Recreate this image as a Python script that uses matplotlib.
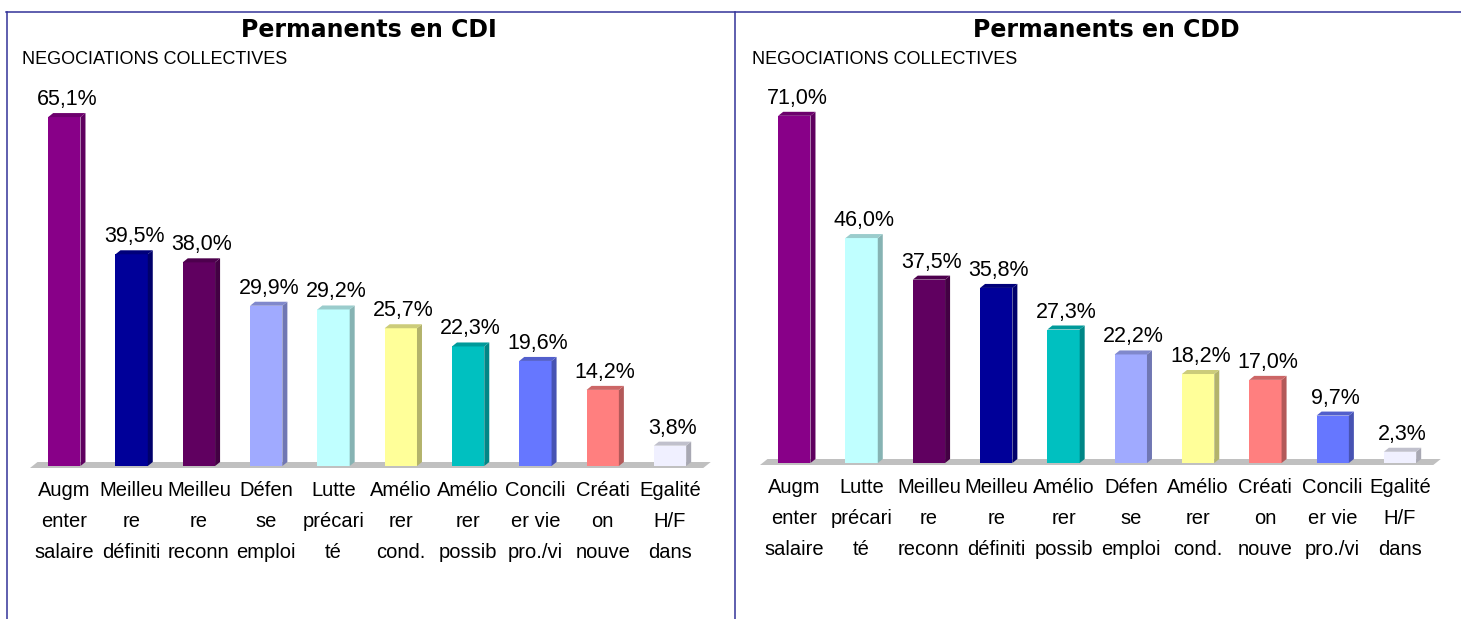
import numpy as np
import matplotlib
matplotlib.use("Agg")
import matplotlib.pyplot as plt
from matplotlib.patches import Polygon
from matplotlib.lines import Line2D
from matplotlib.colors import to_rgb

W, H = 1461, 619
narrow = ['Liberation Sans', 'DejaVu Sans']

# donnees CDI
cats_cdi = ["Augm\nenter\nsalaire", "Meilleu\nre\ndéfiniti", "Meilleu\nre\nreconn",
            "Défen\nse\nemploi", "Lutte\nprécari\nté", "Amélio\nrer\ncond.",
            "Amélio\nrer\npossib", "Concili\ner vie\npro./vi", "Créati\non\nnouve",
            "Egalité\nH/F\ndans"]
vals_cdi = [65.1, 39.5, 38.0, 29.9, 29.2, 25.7, 22.3, 19.6, 14.2, 3.8]

# donnees CDD
cats_cdd = ["Augm\nenter\nsalaire", "Lutte\nprécari\nté", "Meilleu\nre\nreconn",
            "Meilleu\nre\ndéfiniti", "Amélio\nrer\npossib", "Défen\nse\nemploi",
            "Amélio\nrer\ncond.", "Créati\non\nnouve", "Concili\ner vie\npro./vi",
            "Egalité\nH/F\ndans"]
vals_cdd = [71.0, 46.0, 37.5, 35.8, 27.3, 22.2, 18.2, 17.0, 9.7, 2.3]

# couleur par theme
couleurs = {
    "Augm": "#880088", "Meilleu\nre\ndéfiniti": "#000099", "Meilleu\nre\nreconn": "#600060",
    "Défen": "#A0AAFF", "Lutte": "#C0FFFF", "Amélio\nrer\ncond.": "#FFFF99",
    "Amélio\nrer\npossib": "#00C0C0", "Concili": "#6677FF", "Créati": "#FF7F7F",
    "Egalité": "#F0F0FF",
}

def couleur(lab):
    for k, c in couleurs.items():
        if lab.startswith(k):
            return c
    return "gray"

def sombre(c, f):
    r, g, b = to_rgb(c)
    return (r * f, g * f, b * f)

fig = plt.figure(figsize=(W / 100, H / 100), dpi=100)

def panel(x0, base, top, ymax, labels, values, title, sub, tx, sx):
    ax = fig.add_axes([x0 / W, (H - base) / H, 680 / W, (base - top) / H])
    n = len(values)
    x_left = -0.51
    x_right = x_left + 680 / 67.3
    ax.set_xlim(x_left, x_right)
    ax.set_ylim(0, ymax)
    ppx = 680 / (x_right - x_left)          # pixels par unite x
    ppy = (base - top) / ymax               # pixels par %
    dx, dy = 5 / ppx, 4 / ppy
    w = 0.48
    # sol gris
    ax.add_patch(Polygon([(x_left, -2 / ppy), (x_right - 0.1, -2 / ppy),
                          (x_right - 0.1 + dx * 1.5, 4 / ppy), (x_left + dx * 1.5, 4 / ppy)],
                         closed=True, fc="#C0C0C0", ec="none", clip_on=False, zorder=1))
    for i, (lab, v) in enumerate(zip(labels, values)):
        c = couleur(lab)
        ax.bar(i, v, width=w, color=c, zorder=3)
        ax.add_patch(Polygon([(i + w / 2, 0), (i + w / 2 + dx, dy), (i + w / 2 + dx, v + dy), (i + w / 2, v)],
                             closed=True, fc=sombre(c, 0.7), ec="none", zorder=3))
        ax.add_patch(Polygon([(i - w / 2, v), (i + w / 2, v), (i + w / 2 + dx, v + dy), (i - w / 2 + dx, v + dy)],
                             closed=True, fc=sombre(c, 0.8), ec="none", zorder=3))
        ax.annotate(f"{v:.1f}%".replace(".", ","), (i + dx / 2, v + dy), xytext=(0, 3),
                    textcoords="offset pixels", ha="center", va="bottom",
                    fontsize=15.5, family=narrow, color="black")
    ax.set_xticks(range(n), labels, family=narrow, fontsize=14.5, linespacing=1.8)
    ax.tick_params(axis="x", length=0, pad=11)
    ax.set_yticks([])
    for s in ax.spines.values():
        s.set_visible(False)
    fig.text(tx / W, 1 - 30 / H, title, ha="center", va="center", fontsize=17,
             fontweight="bold", family="DejaVu Sans")
    fig.text(sx / W, 1 - 59 / H, sub, ha="left", va="center", fontsize=13, family=narrow)
    return ax

panel(30, 466, 80, 386 / 5.36, cats_cdi, vals_cdi, "Permanents en CDI",
      "NEGOCIATIONS COLLECTIVES", 369, 22)
panel(760, 463, 80, 383 / 4.89, cats_cdd, vals_cdd, "Permanents en CDD",
      "NEGOCIATIONS COLLECTIVES", 1106, 752)

# cadre bleu
bleu = "#333399"
for xs, ys in [([6, W], [H - 12, H - 12]), ([7, 7], [0, H - 12]), ([735, 735], [0, H - 12])]:
    fig.add_artist(Line2D([x / W for x in xs], [y / H for y in ys], color=bleu, lw=1.1))

fig.savefig("out.png", dpi=100)
